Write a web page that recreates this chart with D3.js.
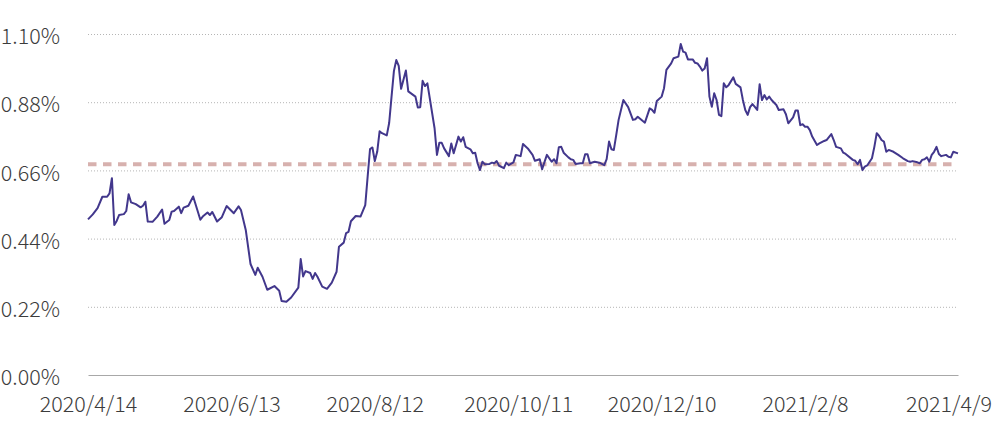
<!DOCTYPE html>
<html>
<head>
<meta charset="utf-8">
<script src="https://cdn.jsdelivr.net/npm/d3@7"></script>
<style>
  body { margin: 0; background: #fff; }
  svg { display: block; }
  svg text { font-family: "Noto Sans CJK SC", "Noto Sans", sans-serif; }
</style>
</head>
<body>
<div id="chart"></div>
<script>
var dates = [
  "2020/4/14","2020/4/16","2020/4/18","2020/4/20","2020/4/22","2020/4/23","2020/4/24","2020/4/25","2020/4/26","2020/4/27",
  "2020/4/29","2020/4/30","2020/5/1","2020/5/2","2020/5/4","2020/5/6","2020/5/7","2020/5/8","2020/5/9","2020/5/11",
  "2020/5/13","2020/5/15","2020/5/16","2020/5/18","2020/5/19","2020/5/20","2020/5/22","2020/5/23","2020/5/24","2020/5/26",
  "2020/5/28","2020/5/31","2020/6/1","2020/6/3","2020/6/4","2020/6/5","2020/6/7","2020/6/9","2020/6/11","2020/6/14",
  "2020/6/16","2020/6/17","2020/6/19","2020/6/21","2020/6/23","2020/6/24","2020/6/26","2020/6/28","2020/7/1","2020/7/3",
  "2020/7/4","2020/7/6","2020/7/8","2020/7/11","2020/7/12","2020/7/13","2020/7/14","2020/7/16","2020/7/17","2020/7/18",
  "2020/7/19","2020/7/21","2020/7/23","2020/7/25","2020/7/27","2020/7/28","2020/7/30","2020/7/31","2020/8/1","2020/8/2",
  "2020/8/4","2020/8/6","2020/8/8","2020/8/9","2020/8/10","2020/8/11","2020/8/12","2020/8/13","2020/8/14","2020/8/15",
  "2020/8/17","2020/8/18","2020/8/19","2020/8/20","2020/8/21","2020/8/22","2020/8/23","2020/8/25","2020/8/26","2020/8/29",
  "2020/8/30","2020/8/31","2020/9/1","2020/9/2","2020/9/3","2020/9/6","2020/9/7","2020/9/8","2020/9/9","2020/9/10",
  "2020/9/12","2020/9/13","2020/9/14","2020/9/16","2020/9/17","2020/9/18","2020/9/19","2020/9/21","2020/9/22","2020/9/23",
  "2020/9/24","2020/9/25","2020/9/26","2020/9/27","2020/9/29","2020/9/30","2020/10/1","2020/10/2","2020/10/3","2020/10/5",
  "2020/10/6","2020/10/7","2020/10/9","2020/10/10","2020/10/12","2020/10/13","2020/10/15","2020/10/17","2020/10/18","2020/10/20",
  "2020/10/21","2020/10/23","2020/10/25","2020/10/26","2020/10/27","2020/10/28","2020/10/29","2020/10/30","2020/11/1","2020/11/2",
  "2020/11/3","2020/11/4","2020/11/6","2020/11/7","2020/11/8","2020/11/9","2020/11/10","2020/11/12","2020/11/14","2020/11/16",
  "2020/11/17","2020/11/18","2020/11/19","2020/11/20","2020/11/21","2020/11/22","2020/11/24","2020/11/26","2020/11/28","2020/11/29",
  "2020/11/30","2020/12/2","2020/12/3","2020/12/5","2020/12/6","2020/12/7","2020/12/8","2020/12/10","2020/12/11","2020/12/12",
  "2020/12/14","2020/12/15","2020/12/17","2020/12/18","2020/12/19","2020/12/20","2020/12/21","2020/12/23","2020/12/24","2020/12/25",
  "2020/12/26","2020/12/27","2020/12/28","2020/12/29","2020/12/30","2020/12/31","2021/1/1","2021/1/2","2021/1/3","2021/1/4",
  "2021/1/5","2021/1/6","2021/1/7","2021/1/9","2021/1/10","2021/1/12","2021/1/13","2021/1/14","2021/1/15","2021/1/16",
  "2021/1/17","2021/1/18","2021/1/19","2021/1/20","2021/1/21","2021/1/22","2021/1/23","2021/1/24","2021/1/25","2021/1/27",
  "2021/1/28","2021/1/30","2021/1/31","2021/2/1","2021/2/3","2021/2/4","2021/2/5","2021/2/6","2021/2/7","2021/2/8",
  "2021/2/9","2021/2/10","2021/2/11","2021/2/13","2021/2/14","2021/2/16","2021/2/17","2021/2/19","2021/2/20","2021/2/21",
  "2021/2/23","2021/2/24","2021/2/25","2021/2/28","2021/3/1","2021/3/2","2021/3/3","2021/3/4","2021/3/5","2021/3/6",
  "2021/3/8","2021/3/9","2021/3/10","2021/3/11","2021/3/12","2021/3/13","2021/3/14","2021/3/15","2021/3/17","2021/3/19",
  "2021/3/21","2021/3/23","2021/3/24","2021/3/25","2021/3/27","2021/3/28","2021/3/29","2021/3/30","2021/3/31","2021/4/1",
  "2021/4/2","2021/4/3","2021/4/4","2021/4/5","2021/4/6","2021/4/8","2021/4/9","2021/4/10","2021/4/11","2021/4/13"
];

var rates = [
  0.502,0.518,0.538,0.575,0.575,0.586,0.635,0.484,0.497,0.516,
  0.519,0.529,0.583,0.557,0.551,0.541,0.546,0.559,0.495,0.494,
  0.511,0.534,0.488,0.500,0.527,0.529,0.543,0.522,0.540,0.546,
  0.576,0.501,0.511,0.524,0.516,0.526,0.495,0.509,0.545,0.522,
  0.544,0.532,0.468,0.358,0.323,0.346,0.317,0.275,0.287,0.272,
  0.239,0.236,0.250,0.282,0.374,0.318,0.335,0.329,0.310,0.329,
  0.317,0.285,0.278,0.298,0.333,0.414,0.427,0.458,0.462,0.496,
  0.513,0.511,0.548,0.640,0.729,0.734,0.690,0.720,0.786,0.780,
  0.773,0.813,0.898,0.981,1.016,0.997,0.923,0.982,0.915,0.898,
  0.863,0.864,0.949,0.932,0.941,0.796,0.710,0.749,0.749,0.731,
  0.706,0.747,0.715,0.769,0.753,0.767,0.736,0.728,0.715,0.717,
  0.683,0.661,0.688,0.680,0.681,0.685,0.683,0.690,0.675,0.667,
  0.685,0.677,0.686,0.710,0.706,0.745,0.731,0.710,0.691,0.696,
  0.664,0.710,0.688,0.696,0.683,0.735,0.736,0.717,0.702,0.696,
  0.694,0.681,0.683,0.683,0.712,0.712,0.683,0.688,0.685,0.677,
  0.696,0.753,0.728,0.726,0.774,0.823,0.887,0.864,0.823,0.825,
  0.833,0.820,0.814,0.860,0.855,0.846,0.884,0.898,0.925,0.984,
  1.005,1.022,1.027,1.068,1.043,1.040,1.018,1.018,1.007,1.005,
  0.995,0.982,0.989,1.022,0.898,0.865,0.909,0.887,0.839,0.835,
  0.941,0.928,0.935,0.960,0.939,0.928,0.887,0.855,0.839,0.864,
  0.874,0.865,0.855,0.938,0.887,0.903,0.889,0.898,0.887,0.871,
  0.855,0.857,0.841,0.812,0.831,0.853,0.853,0.806,0.809,0.801,
  0.801,0.790,0.769,0.742,0.747,0.755,0.758,0.777,0.758,0.736,
  0.731,0.717,0.713,0.694,0.691,0.680,0.694,0.661,0.672,0.676,
  0.699,0.736,0.780,0.771,0.758,0.753,0.720,0.726,0.720,0.710,
  0.699,0.690,0.688,0.690,0.686,0.683,0.694,0.696,0.702,0.688,
  0.710,0.720,0.736,0.713,0.706,0.710,0.704,0.702,0.720,0.715
];

var averageRate = 0.68;
var yTicks = [0, 0.22, 0.44, 0.66, 0.88, 1.10];
var xTickLabels = ["2020/4/14", "2020/6/13", "2020/8/12", "2020/10/11", "2020/12/10", "2021/2/8", "2021/4/9"];

var width = 996, height = 422;
var margin = {top: 34, right: 38, bottom: 47, left: 88};
var fontStack = '"Noto Sans CJK SC", "Noto Sans", sans-serif';

var parse = d3.timeParse("%Y/%m/%d");
var series = dates.map(function(d, i) { return {date: parse(d), value: rates[i]}; });

var svg = d3.select("#chart")
            .append("svg")
            .attr("width", width)
            .attr("height", height);

// the axis runs over the whole series, ticks every 60 days
var x = d3.scaleTime()
          .domain(d3.extent(series, function(d) { return d.date; }))
          .range([margin.left, width - margin.right]);

var y = d3.scaleLinear()
          .domain([0, 1.10])
          .range([height - margin.bottom, margin.top]);

// grid
svg.append("g")
   .selectAll("line")
   .data(yTicks.slice(1))
   .enter()
   .append("line")
   .attr("x1", x.range()[0])
   .attr("x2", x.range()[1])
   .attr("y1", function(d) { return y(d) + 0.5; })
   .attr("y2", function(d) { return y(d) + 0.5; })
   .attr("stroke", "#b5b5b5")
   .attr("stroke-width", 1)
   .attr("stroke-dasharray", "1,2");

// y axis labels
var yAxis = d3.axisLeft(y)
              .tickValues(yTicks)
              .tickSize(0)
              .tickPadding(0)
              .tickFormat(function(d) { return d.toFixed(2) + "%"; });

svg.append("g")
   .attr("transform", "translate(60,0)")
   .call(yAxis)
   .attr("font-family", fontStack)
   .call(function(g) { g.select(".domain").remove(); })
   .selectAll("text")
   .attr("dy", "0.45em")
   .attr("fill", "#3c3c3c")
   .style("font-family", fontStack)
   .style("font-size", "21.5px")
   .style("font-weight", 300);

// x axis
var xAxis = d3.axisBottom(x)
              .tickValues(xTickLabels.map(parse))
              .tickSize(0)
              .tickPadding(0)
              .tickFormat(function(d, i) { return xTickLabels[i]; });

svg.append("g")
   .attr("transform", "translate(0," + (height - margin.bottom) + ")")
   .call(xAxis)
   .attr("font-family", fontStack)
   .call(function(g) {
     g.select(".domain").attr("stroke", "#a8a8a8").attr("stroke-width", 1.2);
   })
   .selectAll("text")
   .attr("y", 0)
   .attr("dy", "1.72em")
   .attr("fill", "#3c3c3c")
   .style("font-family", fontStack)
   .style("font-size", "21.5px")
   .style("font-weight", 300);

// average line
svg.append("line")
   .attr("x1", x.range()[0])
   .attr("x2", x.range()[1])
   .attr("y1", y(averageRate))
   .attr("y2", y(averageRate))
   .attr("stroke", "#d7b1ae")
   .attr("stroke-width", 4)
   .attr("stroke-dasharray", "8.5,6.5");

var line = d3.line()
             .x(function(d) { return x(d.date); })
             .y(function(d) { return y(d.value); });

svg.append("path")
   .datum(series)
   .attr("fill", "none")
   .attr("stroke", "#42378c")
   .attr("stroke-width", 2)
   .attr("stroke-linejoin", "round")
   .attr("d", line);
</script>
</body>
</html>
